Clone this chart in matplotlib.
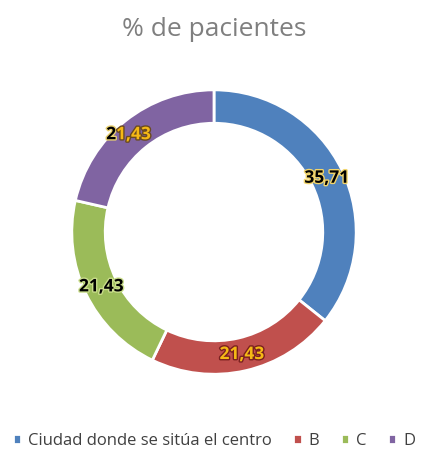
import matplotlib.pyplot as plt
import matplotlib.patheffects as pe
import numpy as np

categories = ["Ciudad donde se sitúa el centro", "B", "C", "D"]
values = [35.71, 21.43, 21.43, 21.43]
labels = ["35,71", "21,43", "21,43", "21,43"]
colors = ["#4F81BD", "#C0504D", "#9BBB59", "#8064A2"]

plt.rcParams['font.family'] = ['Open Sans', 'DejaVu Sans']

fig = plt.figure(figsize=(4.28, 4.55), dpi=100)
ax = fig.add_axes([0.0, 0.10, 1.0, 0.78])

wedges, _ = ax.pie(values, colors=colors, startangle=90, counterclock=False,
                   radius=1.0, wedgeprops=dict(width=0.235, edgecolor="white", linewidth=2))
ax.set_aspect("equal")
ax.set_xlim(-1.505, 1.505)
ax.set_ylim(-1.05, 1.05)

# label styles: (text colour, glow colour)
styles = [("black", "#F2D56B"), ("#F5B915", "#7A2020"), ("black", "#C9DD8A"), (None, None)]
r_lab = 0.88
for w, lab, (fc, gc) in zip(wedges, labels, styles):
    ang = np.deg2rad((w.theta1 + w.theta2) / 2)
    x, y = r_lab * np.cos(ang), r_lab * np.sin(ang)
    if fc is None:
        # purple label: first digit dark, rest gold
        ax.text(x - 0.14, y, lab[0], ha="right", va="center", fontsize=12.5, fontweight="bold",
                color="black", path_effects=[pe.withStroke(linewidth=2, foreground="#E8D070")])
        ax.text(x - 0.14, y, lab[1:], ha="left", va="center", fontsize=12.5, fontweight="bold",
                color="#F5B915", path_effects=[pe.withStroke(linewidth=2, foreground="#6A4A20")])
    else:
        ax.text(x, y, lab, ha="center", va="center", fontsize=12.5, fontweight="bold",
                color=fc, path_effects=[pe.withStroke(linewidth=2, foreground=gc)])

fig.text(0.5, 0.935, "% de pacientes", ha="center", va="center", fontsize=19, color="#7F7F7F")

fig.legend(wedges, categories, loc="lower center", bbox_to_anchor=(0.5, -0.02), ncol=4,
           frameon=False, fontsize=12, handlelength=0.5, handleheight=0.5,
           columnspacing=1.3, handletextpad=0.4, labelcolor="#404040")

fig.savefig("out.png", dpi=100, facecolor="white")
